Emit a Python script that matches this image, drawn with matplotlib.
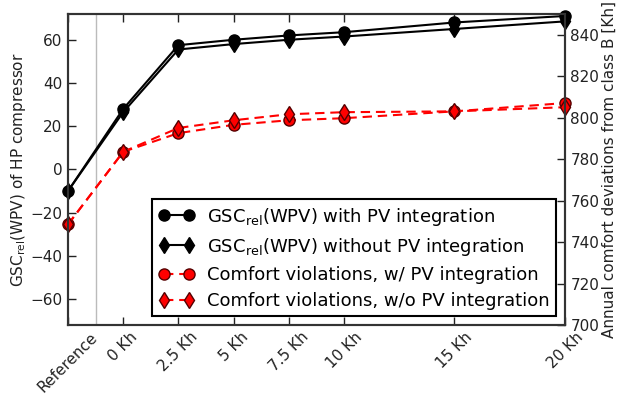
import matplotlib
matplotlib.use("Agg")
import matplotlib.pyplot as plt

x_pos = [-2.5, 0, 2.5, 5, 7.5, 10, 15, 20]
x_labels = ["Reference", "0 Kh", "2.5 Kh", "5 Kh", "7.5 Kh", "10 Kh", "15 Kh", "20 Kh"]
gsc_pv = [-10, 28, 57.5, 60, 62, 63.5, 68, 71]
gsc_nopv = [-10, 26.5, 55.5, 58, 60, 61.5, 65, 68.5]
comfort_pv = [748.5, 783.5, 792.5, 796.5, 798.7, 799.7, 803, 807]
comfort_nopv = [748.5, 783.5, 795, 798.7, 801.6, 802.6, 803, 805]

fig = plt.figure(figsize=(6.18, 3.95), dpi=100)
ax = fig.add_axes([0.11, 0.177, 0.804, 0.788])
ax2 = ax.twinx()

ax.axvline(-1.25, color="#bbbbbb", lw=1, zorder=0)
l1, = ax.plot(x_pos, gsc_pv, "-o", color="k", lw=1.5, ms=8, mec="k", clip_on=False, zorder=5)
l2, = ax.plot(x_pos, gsc_nopv, "-d", color="k", lw=1.5, ms=8, mec="k", clip_on=False, zorder=5)
l3, = ax2.plot(x_pos, comfort_pv, "--o", color="red", lw=1.5, ms=8, mec="#550000", mfc="red", clip_on=False, dashes=(4.5, 2.8))
l4, = ax2.plot(x_pos, comfort_nopv, "--d", color="red", lw=1.5, ms=8, mec="#550000", mfc="red", clip_on=False, dashes=(4.5, 2.8))

ax.set_xlim(-2.5, 20)
ax.set_ylim(-72, 72)
ax2.set_ylim(700, 850)
ax.set_xticks(x_pos)
ax.set_xticklabels(x_labels, rotation=45, ha="center", fontsize=11, color="#222222")
ax.set_yticks([-60, -40, -20, 0, 20, 40, 60])
ax.set_yticklabels(["\u221260", "\u221240", "\u221220", "0", "20", "40", "60"])
ax2.set_yticks([700, 720, 740, 760, 780, 800, 820, 840])
for a in (ax, ax2):
    a.tick_params(direction="in", length=6, labelsize=11, colors="#222222", width=1, pad=4)
    for s in a.spines.values():
        s.set_linewidth(1.5)
        s.set_color("#333333")
ax.tick_params(axis="x", top=True, labelsize=11, pad=3)
ax.set_ylabel("GSC$_{\\mathrm{rel}}$(WPV) of HP compressor", fontsize=11, color="#222222", labelpad=2)
ax2.set_ylabel("Annual comfort deviations from class B [Kh]", fontsize=11, color="#222222", labelpad=2)

leg = ax.legend([l1, l2, l3, l4],
          ["GSC$_{\\mathrm{rel}}$(WPV) with PV integration",
           "GSC$_{\\mathrm{rel}}$(WPV) without PV integration",
           "Comfort violations, w/ PV integration",
           "Comfort violations, w/o PV integration"],
          loc="lower right", bbox_to_anchor=(0.982, 0.028), borderaxespad=0,
          fontsize=13, fancybox=False,
          edgecolor="k", framealpha=1, borderpad=0.35, labelspacing=0.45, handlelength=2.0,
          numpoints=2, handletextpad=0.7)
leg.get_frame().set_linewidth(1.5)
leg.set_zorder(10)

fig.savefig("out.png", dpi=100)
